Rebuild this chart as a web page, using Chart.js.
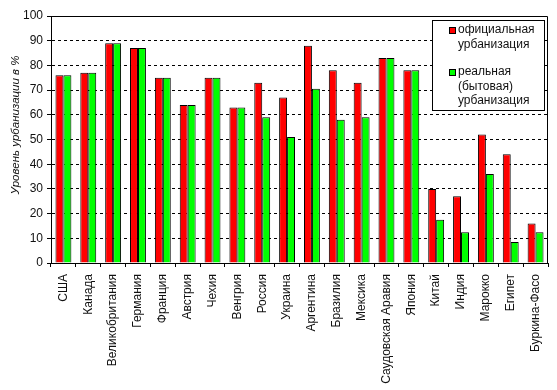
<!DOCTYPE html>
<html>
<head>
<meta charset="utf-8">
<script src="https://cdn.jsdelivr.net/npm/chart.js@4.4.0/dist/chart.umd.min.js"></script>
<style>
  html, body { margin: 0; padding: 0; background: #fff; }
  #wrap { width: 557px; height: 390px; position: relative; }
</style>
</head>
<body>
<div id="wrap"><canvas id="chart"></canvas></div>
<script>
const countries = ['США', 'Канада', 'Великобритания', 'Германия', 'Франция', 'Австрия', 'Чехия', 'Венгрия', 'Россия', 'Украина',
  'Аргентина', 'Бразилия', 'Мексика', 'Саудовская Аравия', 'Япония', 'Китай', 'Индия', 'Марокко', 'Египет', 'Буркина-Фасо'];
const official = [76, 77, 89, 87, 75, 64, 75, 63, 73, 67, 88, 78, 73, 83, 78, 30, 27, 52, 44, 16];
const real = [76, 77, 89, 87, 75, 64, 75, 63, 59, 51, 70.5, 58, 59, 83, 78, 17.5, 12.5, 36, 8.5, 12.5];
const officialLabel = ['официальная', 'урбанизация'];
const realLabel = ['реальная', '(бытовая)', 'урбанизация'];
const yTitle = 'Уровень урбанизации в %';

const font = 'Liberation Sans, Arial, sans-serif';

// рамка области графика, подпись оси Y и легенда внутри графика
const frameAndLegend = {
  id: 'frameAndLegend',
  afterDraw(chart) {
    const c = chart.ctx, a = chart.chartArea;
    c.save();
    c.strokeStyle = '#000';
    c.lineWidth = 1;
    c.beginPath();
    c.moveTo(a.left, a.top + 0.5);
    c.lineTo(a.right - 0.5, a.top + 0.5);
    c.lineTo(a.right - 0.5, a.bottom);
    c.stroke();

    // подпись оси Y
    c.save();
    c.translate(16, 125);
    c.rotate(-Math.PI / 2);
    c.font = 'italic 11.5px ' + font;
    c.fillStyle = '#111';
    c.textAlign = 'center';
    c.textBaseline = 'middle';
    c.fillText(yTitle, 0, 0);
    c.restore();

    const bx = 432, by = 20, bw = 112, bh = 90;
    c.fillStyle = '#fff';
    c.fillRect(bx, by, bw, bh);
    c.strokeRect(bx + 0.5, by + 0.5, bw, bh);

    c.font = '12px ' + font;
    c.textBaseline = 'middle';
    const groups = [
      { lines: officialLabel, color: chart.data.datasets[0].backgroundColor, y: 30 },
      { lines: realLabel, color: chart.data.datasets[1].backgroundColor, y: 72 }
    ];
    groups.forEach(g => {
      c.fillStyle = g.color;
      c.fillRect(449, g.y - 3, 6, 6);
      c.strokeRect(449.5, g.y - 2.5, 6, 6);
      c.fillStyle = '#111';
      g.lines.forEach((t, i) => c.fillText(t, 458, g.y + i * 14.5));
    });
    c.restore();
  }
};

new Chart(document.getElementById('chart'), {
  type: 'bar',
  data: {
    labels: countries,
    datasets: [
      {
        label: officialLabel.join(' '),
        data: official,
        backgroundColor: '#ff0000',
        borderColor: '#000',
        borderWidth: 1,
        categoryPercentage: 0.64,
        barPercentage: 1
      },
      {
        label: realLabel.join(' '),
        data: real,
        backgroundColor: '#00ff00',
        borderColor: '#000',
        borderWidth: 1,
        categoryPercentage: 0.64,
        barPercentage: 1
      }
    ]
  },
  options: {
    responsive: true,
    maintainAspectRatio: false,
    animation: false,
    layout: { padding: { top: 16, right: 1, left: 0, bottom: 0 } },
    plugins: {
      legend: { display: false },
      tooltip: { enabled: false }
    },
    scales: {
      x: {
        offset: true,
        grid: {
          offset: true,
          drawOnChartArea: false,
          drawTicks: true,
          tickLength: 4,
          color: '#000'
        },
        border: { color: '#000', width: 1 },
        ticks: {
          color: '#111',
          font: { family: font, size: 12 },
          minRotation: 90,
          maxRotation: 90,
          autoSkip: false,
          padding: 7
        },
        afterFit(scale) { scale.height = 127; }
      },
      y: {
        min: 0,
        max: 100,
        ticks: {
          stepSize: 10,
          color: '#111',
          font: { family: font, size: 12 },
          padding: 4
        },
        grid: {
          color: ctx => (ctx.tick && (ctx.tick.value === 0 || ctx.tick.value === 100)) ? 'rgba(0,0,0,0)' : '#000',
          tickBorderDash: [],
          tickColor: '#000',
          tickLength: 4,
          lineWidth: 1
        },
        border: { color: '#000', width: 1, dash: [3, 3] },
        afterFit(scale) { scale.width = 51; }
      }
    }
  },
  plugins: [frameAndLegend]
});
</script>
</body>
</html>
